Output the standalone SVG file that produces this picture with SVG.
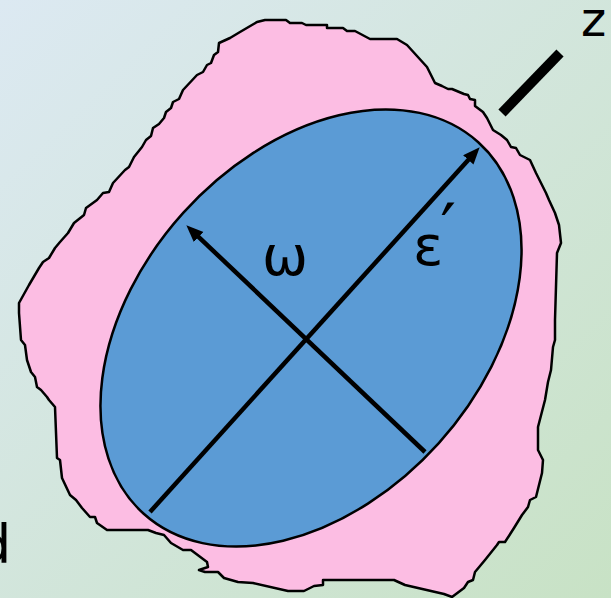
<svg xmlns="http://www.w3.org/2000/svg" width="611" height="598" viewBox="0 0 611 598">
<defs>
<linearGradient id="bg" x1="0" y1="0" x2="1" y2="1">
<stop offset="0" stop-color="#dce9f2"/>
<stop offset="1" stop-color="#c8e2c5"/>
</linearGradient>
<marker id="ah" markerUnits="userSpaceOnUse" markerWidth="18" markerHeight="16" refX="10" refY="7" orient="auto">
<path d="M0,0 L17,7 L0,14 Z" fill="#000"/>
</marker>
<style>
.blob{fill:#fcbde3;stroke:#000;stroke-width:2.5;stroke-linejoin:round}
.ell{fill:#5b9bd5;stroke:#000;stroke-width:2.5}
.axis{stroke:#000;stroke-width:4.5;fill:none}
.lbl{font-family:"DejaVu Sans",sans-serif;fill:#000}
</style>
</defs>
<rect width="611" height="598" fill="url(#bg)"/>
<g id="blob">
<path class="blob" d="M257,22 L265,20 L286,20 L290,23 L302,23 L306,25 L327,25 L327,28 L343,28 L347,31 L355,31 L370,39 L397,39 L407,45 L427,67 L435,83 L442,86 L448,89 L452,89 L464,94 L468,95 L470,99 L475,100 L475,106 L483,112 L487,118 L493,130 L501,135 L507,140 L511,147 L516,148 L520,155 L530,160 L536,173 L546,193 L549,200 L555,213 L559,225 L561,243 L557,253 L555,320 L555,340 L553,347 L551,370 L548,382 L545,400 L538,427 L538,450 L543,460 L542,473 L536,497 L530,500 L528,507 L522,515 L514,528 L505,542 L499,542 L497,545 L485,560 L475,572 L473,580 L468,582 L464,588 L452,597 L444,594 L405,585 L394,580 L323,580 L323,585 L314,586 L304,591 L288,591 L253,583 L238,582 L224,578 L218,572 L205,572 L199,570 L208,567 L207,562 L191,550 L183,550 L171,543 L164,535 L156,533 L148,530 L107,530 L97,523 L95,517 L90,517 L82,508 L76,500 L70,495 L62,478 L60,460 L57,458 L55,407 L49,400 L47,397 L41,390 L37,387 L35,377 L31,372 L27,360 L25,345 L21,340 L19,313 L19,303 L29,285 L39,268 L43,262 L49,258 L55,248 L60,242 L68,233 L74,223 L84,215 L86,208 L97,200 L103,193 L109,192 L113,183 L125,170 L129,167 L134,157 L142,147 L146,140 L151,136 L153,128 L159,124 L164,118 L166,112 L171,108 L173,102 L179,99 L183,90 L197,75 L203,72 L207,65 L211,63 L214,55 L218,52 L219,43 L230,38 L240,32 Z"/>
</g>
<g id="ellipse">
<ellipse class="ell" cx="311" cy="328" rx="250" ry="172" transform="rotate(-48 311 328)"/>
</g>
<g id="connectors">
<line class="axis" x1="150" y1="512" x2="475" y2="152.5" marker-end="url(#ah)"/>
<line class="axis" x1="425" y1="452" x2="191.4" y2="230.1" marker-end="url(#ah)"/>
<line x1="502" y1="113" x2="560" y2="53" stroke="#000" stroke-width="10"/>
</g>
<g id="labels">
<text class="lbl" x="262" y="275" font-size="55">ω</text>
<text class="lbl" x="413" y="265" font-size="56">ε<tspan font-size="70" dx="-3" dy="-12">′</tspan></text>
<text class="lbl" x="581" y="36" font-size="48">z</text>
<text class="lbl" x="-23" y="563" font-size="54">d</text>
</g>
</svg>
